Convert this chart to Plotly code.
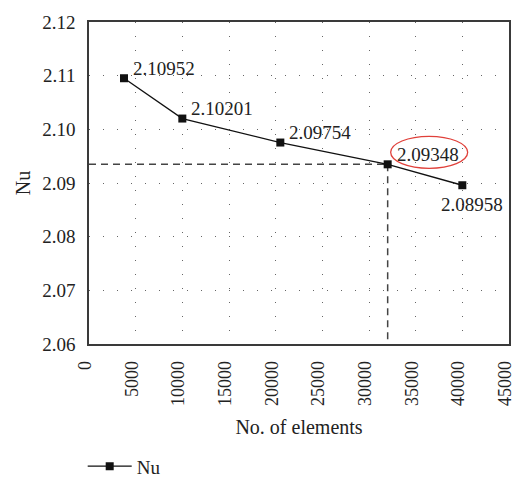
import plotly.graph_objects as go

elements = [3750, 10000, 20500, 32000, 40000]
nu = [2.10952, 2.10201, 2.09754, 2.09348, 2.08958]
labels = ["2.10952", "2.10201", "2.09754", "2.09348", "2.08958"]
x_ticks = [0, 5000, 10000, 15000, 20000, 25000, 30000, 35000, 40000, 45000]
y_ticks = [2.06, 2.07, 2.08, 2.09, 2.10, 2.11, 2.12]
y_tick_text = ["2.06", "2.07", "2.08", "2.09", "2.10", "2.11", "2.12"]
sel = 3  # selected mesh

FONT = "Liberation Serif"
AX = "#3a3a3a"
GRID = "#666666"

fig = go.Figure()

# dashed guide lines to the selected point
fig.add_trace(go.Scatter(x=[x_ticks[0], elements[sel]], y=[nu[sel], nu[sel]], mode="lines",
                         line=dict(color="#444444", width=1.5, dash="7px,5px"),
                         showlegend=False, hoverinfo="skip"))
fig.add_trace(go.Scatter(x=[elements[sel], elements[sel]], y=[nu[sel], y_ticks[0]], mode="lines",
                         line=dict(color="#444444", width=1.5, dash="7px,5px"),
                         showlegend=False, hoverinfo="skip"))

fig.add_trace(go.Scatter(x=elements, y=nu, mode="lines+markers", name="Nu",
                         line=dict(color="#111111", width=1.3),
                         marker=dict(symbol="square", size=8, color="#111111")))

ann = []
for i, (xv, yv, t) in enumerate(zip(elements, nu, labels)):
    if i == len(elements) - 1:
        ann.append(dict(x=xv, y=yv, text=t, showarrow=False, xanchor="center", yanchor="middle",
                        xshift=10, yshift=-19, font=dict(family=FONT, size=19, color="#222")))
    else:
        ann.append(dict(x=xv, y=yv, text=t, showarrow=False, xanchor="left", yanchor="middle",
                        xshift=7, yshift=10, font=dict(family=FONT, size=19, color="#222")))

fig.update_layout(
    width=515, height=492,
    margin=dict(l=89, r=6, t=22, b=133),
    paper_bgcolor="white", plot_bgcolor="white",
    font=dict(family=FONT, size=19, color="#222"),
    annotations=ann,
    shapes=[dict(type="circle", xref="x", yref="y", xsizemode="pixel", ysizemode="pixel",
                 xanchor=elements[sel], yanchor=nu[sel], x0=3, x1=80, y0=28, y1=-4,
                 line=dict(color="#e0403a", width=1.3))],
    showlegend=True,
    legend=dict(orientation="h", x=-0.015, y=-0.38, xanchor="left", yanchor="middle",
                itemwidth=44,
                font=dict(family=FONT, size=19), bgcolor="rgba(0,0,0,0)"),
    xaxis=dict(range=[0, 45000], tickvals=x_ticks, ticktext=[str(v) for v in x_ticks],
               tickangle=-90, showline=True, linecolor=AX, linewidth=1.5, mirror=True,
               showgrid=True, gridcolor=GRID, gridwidth=1, griddash="1px,13px",
               ticks="outside", ticklen=8, tickcolor="rgba(0,0,0,0)",
               tickfont=dict(family=FONT, size=18), ticklabelshift=-4,
               automargin=False, ticklabeloverflow="allow",
               zeroline=False, title=dict(text="No. of elements", standoff=15,
                                          font=dict(family=FONT, size=20))),
    yaxis=dict(range=[2.06, 2.12], tickvals=y_ticks, ticktext=y_tick_text,
               showline=True, linecolor=AX, linewidth=1.5, mirror=True,
               showgrid=True, gridcolor=GRID, gridwidth=1, griddash="1px,13px",
               ticks="outside", ticklen=8, tickcolor="rgba(0,0,0,0)",
               automargin=False,
               zeroline=False, title=dict(text="Nu", standoff=6,
                                          font=dict(family=FONT, size=20))),
)

fig.write_html("out.html")
